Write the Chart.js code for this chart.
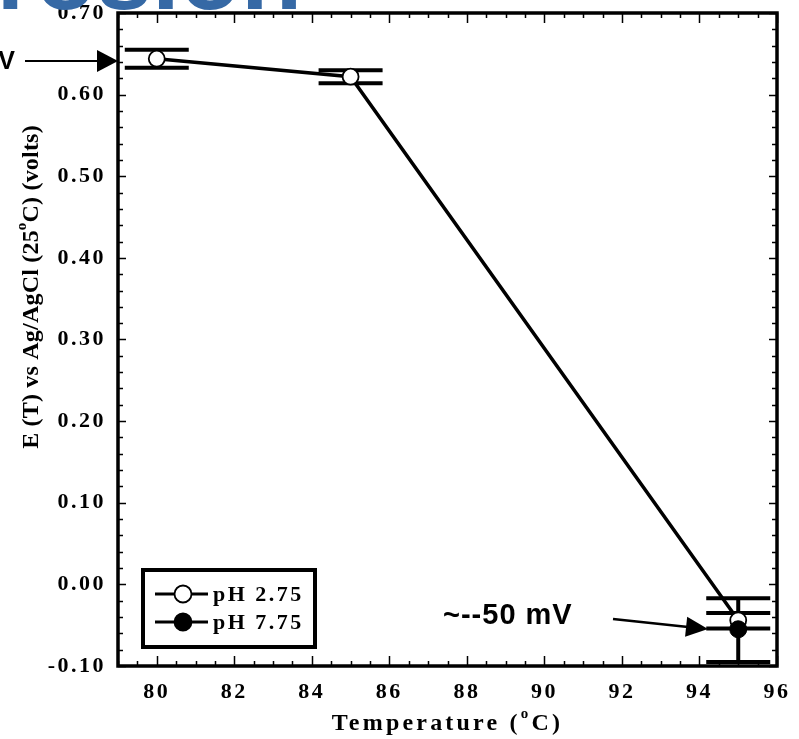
<!DOCTYPE html>
<html>
<head>
<meta charset="utf-8">
<script src="https://cdn.jsdelivr.net/npm/chart.js@4"></script>
<style>
  html, body { margin: 0; padding: 0; background: #fff; }
  #wrap { width: 799px; height: 739px; position: relative; }
</style>
</head>
<body>
<div id="wrap"><canvas id="potChart"></canvas></div>
<script>
// temperature (deg C) and potential (V) for each solution
const temps = [80, 85, 95];
const ph275 = [0.644, 0.622, -0.044];
const ph275Low = [0.633, 0.614, -0.054];
const ph275High = [0.655, 0.630, -0.035];

const ph775Temps = [95];
const ph775 = [-0.055];
const ph775Low = [-0.095];
const ph775High = [-0.017];

const xTicks = [80, 82, 84, 86, 88, 90, 92, 94, 96];
const yTicks = [-0.10, 0.00, 0.10, 0.20, 0.30, 0.40, 0.50, 0.60, 0.70];

const serif = "'Liberation Serif', 'DejaVu Serif', serif";
const sans = "'Liberation Sans', Arial, sans-serif";

function drawArrow(ctx, x1, y1, x2, y2, head, half) {
    const a = Math.atan2(y2 - y1, x2 - x1);
    ctx.beginPath();
    ctx.moveTo(x1, y1);
    ctx.lineTo(x2 - Math.cos(a) * head * 0.8, y2 - Math.sin(a) * head * 0.8);
    ctx.stroke();
    ctx.beginPath();
    ctx.moveTo(x2, y2);
    ctx.lineTo(x2 - Math.cos(a) * head - Math.sin(a) * half, y2 - Math.sin(a) * head + Math.cos(a) * half);
    ctx.lineTo(x2 - Math.cos(a) * head + Math.sin(a) * half, y2 - Math.sin(a) * head - Math.cos(a) * half);
    ctx.closePath();
    ctx.fill();
}

// text with a raised small "o" for the degree sign
function drawSupText(ctx, parts, x, y, size, spacing) {
    ctx.letterSpacing = spacing + 'px';
    const big = 'bold ' + size + 'px ' + serif;
    const small = 'bold ' + Math.round(size * 0.62) + 'px ' + serif;
    let total = 0;
    parts.forEach(p => {
        ctx.font = p.sup ? small : big;
        total += ctx.measureText(p.t).width;
    });
    let cx = x - total / 2;
    ctx.textAlign = 'left';
    ctx.textBaseline = 'middle';
    parts.forEach(p => {
        ctx.font = p.sup ? small : big;
        ctx.fillText(p.t, cx, p.sup ? y - size * 0.42 : y);
        cx += ctx.measureText(p.t).width;
    });
}

const decor = {
    id: 'decor',
    beforeDraw(chart) {
        chart.ctx.letterSpacing = '2.5px';
    },
    beforeDatasetsDraw(chart) {
        const ctx = chart.ctx;
        const xs = chart.scales.x, ys = chart.scales.y;
        ctx.save();
        ctx.strokeStyle = '#000';
        ctx.lineWidth = 4;
        ctx.lineCap = 'butt';
        chart.data.datasets.forEach(ds => {
            ds.data.forEach((p, i) => {
                const px = xs.getPixelForValue(p.x);
                const lo = ys.getPixelForValue(ds.errLow[i]);
                const hi = ys.getPixelForValue(ds.errHigh[i]);
                ctx.beginPath();
                ctx.moveTo(px, lo); ctx.lineTo(px, hi);
                ctx.moveTo(px - 32, lo); ctx.lineTo(px + 32, lo);
                ctx.moveTo(px - 32, hi); ctx.lineTo(px + 32, hi);
                ctx.stroke();
            });
        });
        ctx.restore();
    },
    afterDatasetsDraw(chart) {
        const ctx = chart.ctx;
        const a = chart.chartArea;
        const xs = chart.scales.x, ys = chart.scales.y;
        ctx.save();
        ctx.strokeStyle = '#000';
        // inward ticks on all four sides
        ctx.lineWidth = 1.5;
        ctx.beginPath();
        for (let v = 79; v <= 96.001; v += 0.5) {
            const px = Math.round(xs.getPixelForValue(v)) + 0.5;
            const len = (Math.abs(v % 2) < 0.01) ? 10 : 5;
            ctx.moveTo(px, a.bottom); ctx.lineTo(px, a.bottom - len);
            ctx.moveTo(px, a.top); ctx.lineTo(px, a.top + len);
        }
        for (let k = -5; k <= 35; k++) {
            const py = Math.round(ys.getPixelForValue(k * 0.02)) + 0.5;
            const len = (k % 5 === 0) ? 8 : 5;
            ctx.moveTo(a.left, py); ctx.lineTo(a.left + len, py);
            ctx.moveTo(a.right, py); ctx.lineTo(a.right - len, py);
        }
        ctx.stroke();
        // frame
        ctx.lineWidth = 3.5;
        ctx.strokeRect(a.left, a.top, a.right - a.left, a.bottom - a.top);
        ctx.restore();
    },
    afterDraw(chart) {
        const ctx = chart.ctx;
        const a = chart.chartArea;
        ctx.save();
        ctx.fillStyle = '#000';

        // axis titles
        drawSupText(ctx, [{ t: 'Temperature (' }, { t: 'o', sup: true }, { t: 'C)' }],
            (a.left + a.right) / 2, 724, 24, 3.2);
        ctx.save();
        ctx.translate(32, 287);
        ctx.rotate(-Math.PI / 2);
        drawSupText(ctx, [{ t: 'E (T) vs Ag/AgCl (25' }, { t: 'o', sup: true }, { t: 'C) (volts)' }],
            0, 0, 24, 0.2);
        ctx.restore();

        // legend box
        ctx.letterSpacing = '2.5px';
        ctx.fillStyle = '#fff';
        ctx.fillRect(143, 570, 172, 77);
        ctx.strokeStyle = '#000';
        ctx.lineWidth = 4;
        ctx.strokeRect(143, 570, 172, 77);
        chart.data.datasets.forEach((ds, i) => {
            const ly = 594 + i * 28;
            ctx.lineWidth = 3;
            ctx.beginPath();
            ctx.moveTo(155, ly); ctx.lineTo(208, ly);
            ctx.stroke();
            ctx.beginPath();
            ctx.arc(183, ly, 8.5, 0, Math.PI * 2);
            ctx.fillStyle = ds.pointBackgroundColor;
            ctx.fill();
            ctx.lineWidth = 1.8;
            ctx.stroke();
            ctx.fillStyle = '#000';
            ctx.font = 'bold 22px ' + serif;
            ctx.textAlign = 'left';
            ctx.textBaseline = 'middle';
            ctx.fillText(ds.label, 213, ly + 1);
        });

        // heading across the top
        ctx.letterSpacing = '0px';
        ctx.fillStyle = '#3669a5';
        ctx.font = 'bold 100px ' + sans;
        ctx.textAlign = 'right';
        ctx.textBaseline = 'alphabetic';
        ctx.fillText('Corrosion', 302, 9);

        // callouts
        ctx.fillStyle = '#000';
        ctx.strokeStyle = '#000';
        ctx.font = 'bold 25px ' + sans;
        ctx.textAlign = 'right';
        ctx.textBaseline = 'middle';
        ctx.fillText('V', 15, 62);
        ctx.lineWidth = 2;
        drawArrow(ctx, 25, 61, 118, 61, 21, 11);

        ctx.letterSpacing = '1px';
        ctx.font = 'bold 29px ' + sans;
        ctx.textAlign = 'left';
        ctx.fillText('~--50 mV', 443, 616);
        ctx.lineWidth = 2.5;
        drawArrow(ctx, 613, 619, 708, 629, 22, 10);

        ctx.restore();
        ctx.letterSpacing = '0px';
    }
};

const toPoints = (xs, ys) => xs.map((x, i) => ({ x: x, y: ys[i] }));

new Chart(document.getElementById('potChart'), {
    type: 'line',
    data: {
        datasets: [{
            label: 'pH 2.75',
            data: toPoints(temps, ph275),
            errLow: ph275Low,
            errHigh: ph275High,
            borderColor: '#000',
            borderWidth: 3.5,
            pointRadius: 8,
            pointBorderWidth: 1.8,
            pointBackgroundColor: '#fff',
            pointBorderColor: '#000',
            order: 1
        }, {
            label: 'pH 7.75',
            data: toPoints(ph775Temps, ph775),
            errLow: ph775Low,
            errHigh: ph775High,
            borderColor: '#000',
            borderWidth: 3.5,
            pointRadius: 8.5,
            pointBorderWidth: 1,
            pointBackgroundColor: '#000',
            pointBorderColor: '#000',
            order: 0
        }]
    },
    options: {
        responsive: true,
        maintainAspectRatio: false,
        animation: false,
        layout: { padding: { top: 13, right: 22, left: 0, bottom: 0 } },
        plugins: {
            legend: { display: false },
            tooltip: { enabled: false }
        },
        scales: {
            x: {
                type: 'linear',
                min: 79,
                max: 96,
                grid: { display: false, drawTicks: false },
                border: { display: false },
                afterBuildTicks: s => { s.ticks = xTicks.map(v => ({ value: v })); },
                afterFit: s => {
                    s.height = 73;
                    s.paddingLeft = 0;
                    s.paddingRight = 0;
                },
                ticks: {
                    padding: 13,
                    color: '#000',
                    maxRotation: 0,
                    font: { family: serif, weight: 'bold', size: 22 },
                    callback: v => String(v)
                }
            },
            y: {
                min: -0.10,
                max: 0.70,
                grid: { display: false, drawTicks: false },
                border: { display: false },
                afterBuildTicks: s => { s.ticks = yTicks.map(v => ({ value: v })); },
                afterFit: s => {
                    s.width = 118;
                    s.paddingTop = 0;
                    s.paddingBottom = 0;
                },
                ticks: {
                    padding: 12,
                    color: '#000',
                    font: { family: serif, weight: 'bold', size: 22 },
                    callback: v => v.toFixed(2)
                }
            }
        }
    },
    plugins: [decor]
});
</script>
</body>
</html>
